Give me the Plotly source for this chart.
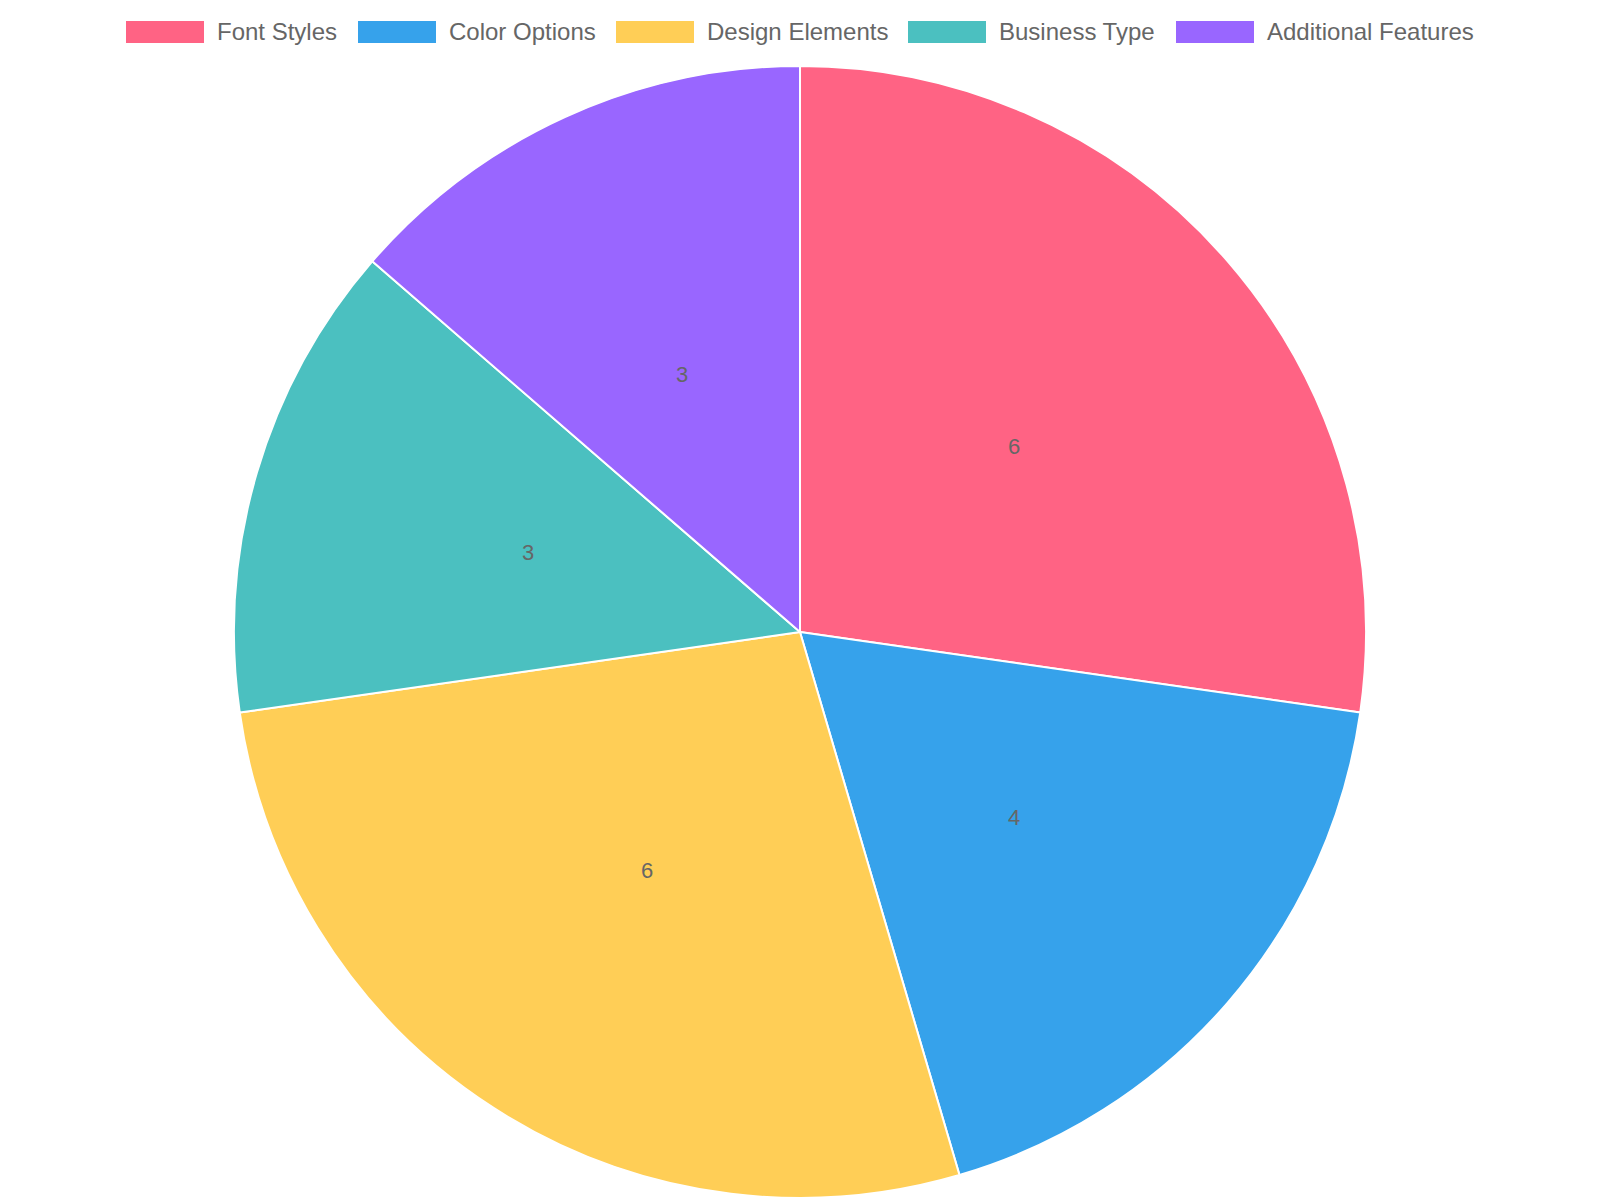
import math
import plotly.graph_objects as go

labels = ["Font Styles", "Color Options", "Design Elements", "Business Type", "Additional Features"]
values = [6, 4, 6, 3, 3]
colors = ["#FF6384", "#36A2EB", "#FFCE56", "#4BC0C0", "#9966FF"]

W, H = 1600, 1200
mt, mb = 66, 2
FONT = "Liberation Sans, Arial, sans-serif"

fig = go.Figure(go.Pie(
    labels=labels,
    values=values,
    sort=False,
    direction="clockwise",
    rotation=0,
    marker=dict(colors=colors, line=dict(color="#ffffff", width=2)),
    textinfo="none",
    showlegend=False,
    hoverinfo="label+value",
))

plot_h = H - mt - mb
radius_px = min(W, plot_h) / 2

def py2paper(py):
    return (H - mb - py) / plot_h

annotations = []
# value labels at half radius along each slice's mid-angle (Chart.js datalabels style)
total = sum(values)
cum = 0
for v in values:
    mid = (cum + v / 2) / total * 2 * math.pi
    cum += v
    dx = 0.5 * radius_px * math.sin(mid)
    dy = 0.5 * radius_px * math.cos(mid)
    annotations.append(dict(xref="paper", yref="paper",
                            x=0.5 + dx / W, y=0.5 + dy / plot_h,
                            xanchor="center", yanchor="middle",
                            text=str(v), showarrow=False,
                            font=dict(family=FONT, size=22, color="#666666")))

# custom legend (wide colour boxes like the reference)
box_left = [126, 358, 616, 908, 1176]
box_w, box_top, box_bot = 78, 21, 43

shapes = []
for i, lab in enumerate(labels):
    x0 = box_left[i]
    shapes.append(dict(type="rect", xref="paper", yref="paper",
                       x0=x0 / W, x1=(x0 + box_w) / W,
                       y0=py2paper(box_bot), y1=py2paper(box_top),
                       fillcolor=colors[i], line=dict(width=0)))
    annotations.append(dict(xref="paper", yref="paper",
                            x=(x0 + box_w + 11) / W, y=py2paper(31),
                            xanchor="left", yanchor="middle",
                            text=lab, showarrow=False,
                            font=dict(family=FONT, size=24, color="#666666")))

fig.update_layout(
    width=W, height=H,
    margin=dict(l=0, r=0, t=mt, b=mb),
    paper_bgcolor="#ffffff",
    plot_bgcolor="#ffffff",
    shapes=shapes,
    annotations=annotations,
    font=dict(family=FONT, color="#666666"),
)

fig.write_html("out.html")
